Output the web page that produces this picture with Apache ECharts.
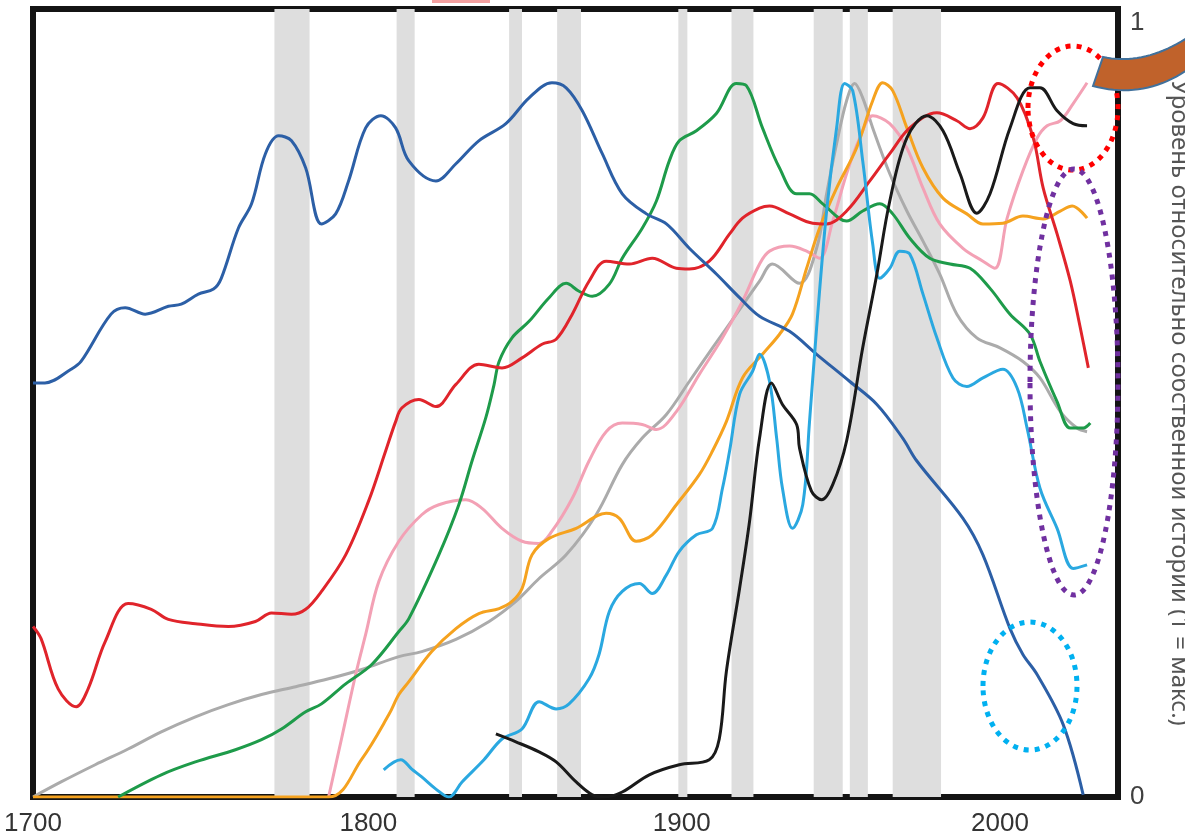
<!DOCTYPE html>
<html><head><meta charset="utf-8">
<script src="https://cdn.jsdelivr.net/npm/echarts@6/dist/echarts.min.js"></script>
<style>html,body{margin:0;padding:0;background:#fff}#c{width:1185px;height:839px}</style>
</head><body><div id="c"></div>
<script>
const xTicks = [1700, 1800, 1900, 2000];
const yAxisTitle = 'Уровень относительно собственной истории (1 = макс.)';
const warPeriods = [[1774.9,1785.8],[1812.8,1818.4],[1847.7,1851.7],[1862.6,1870.0],[1900.2,1903.0],[1916.7,1923.5],[1942.2,1951.2],[1953.4,1959.0],[1966.7,1981.7]];

const darkBlue = [[1700,0.578],[1703.7,0.578],[1711.8,0.597],[1714.9,0.608],[1724.2,0.674],[1728.6,0.683],[1734.8,0.674],[1742,0.685],[1746,0.688],[1751.3,0.702],[1756,0.709],[1758.4,0.724],[1763.7,0.794],[1767.8,0.828],[1772.1,0.898],[1776.2,0.923],[1780.2,0.916],[1784.6,0.878],[1789.5,0.8],[1793.9,0.814],[1797.9,0.86],[1803.2,0.934],[1807.9,0.951],[1812.5,0.934],[1816.6,0.888],[1825,0.86],[1831.2,0.884],[1838.3,0.916],[1846.7,0.94],[1853.9,0.976],[1861,0.997],[1865.4,0.99],[1870.4,0.958],[1876.6,0.898],[1882.8,0.842],[1890.3,0.814],[1896.5,0.8],[1903.6,0.766],[1912,0.73],[1919.2,0.697],[1925.4,0.671],[1934.7,0.65],[1943.1,0.618],[1953.4,0.58],[1961.8,0.548],[1969.8,0.501],[1974.2,0.469],[1988.5,0.389],[1994.7,0.338],[2003.1,0.235],[2007.1,0.199],[2011.5,0.171],[2019.6,0.101],[2025.8,0.003]];

const red = [[1700,0.238],[1702.5,0.221],[1707.8,0.151],[1713.4,0.126],[1717.1,0.151],[1722.4,0.217],[1729.5,0.27],[1736.7,0.262],[1742,0.248],[1750.4,0.242],[1760.6,0.238],[1769,0.245],[1774,0.257],[1780.2,0.255],[1784.6,0.262],[1789.5,0.287],[1797,0.338],[1804.1,0.413],[1809.4,0.483],[1812.5,0.524],[1814.4,0.543],[1819.7,0.555],[1825,0.545],[1831.2,0.576],[1838.3,0.604],[1845.5,0.599],[1851.7,0.613],[1857.9,0.632],[1862.3,0.639],[1867.3,0.674],[1872.5,0.72],[1877.8,0.748],[1885,0.744],[1892.1,0.752],[1899.6,0.738],[1903.6,0.737],[1909.8,0.748],[1916.1,0.786],[1920.1,0.808],[1925.4,0.822],[1928.5,0.825],[1934.7,0.814],[1941.9,0.801],[1946.2,0.8],[1952.4,0.818],[1959.6,0.86],[1965.8,0.898],[1972,0.934],[1980.4,0.955],[1986.6,0.944],[1990.7,0.933],[1994.7,0.948],[1999.4,0.996],[2005.3,0.976],[2010.3,0.92],[2013.4,0.85],[2017.7,0.786],[2021.8,0.72],[2024.9,0.655],[2027.4,0.599]];

const green = [[1726.4,0],[1739.8,0.031],[1750.4,0.049],[1762.8,0.066],[1770.9,0.08],[1777.1,0.095],[1784.6,0.119],[1789.5,0.13],[1797,0.158],[1805.1,0.185],[1813.5,0.231],[1816.6,0.249],[1825.9,0.338],[1832.1,0.408],[1836.2,0.469],[1840.5,0.53],[1843,0.575],[1844.6,0.608],[1848.6,0.641],[1853.9,0.664],[1860.1,0.697],[1865.4,0.717],[1869.4,0.706],[1873.5,0.699],[1878.8,0.716],[1882.8,0.752],[1889,0.794],[1893.4,0.832],[1897.4,0.888],[1900.5,0.916],[1905.8,0.93],[1912,0.954],[1918.2,0.996],[1921.3,0.993],[1926.3,0.934],[1931.6,0.878],[1936.9,0.842],[1940.9,0.842],[1945,0.828],[1952.4,0.804],[1957.4,0.818],[1962.7,0.828],[1966.7,0.814],[1972,0.78],[1978.2,0.752],[1984.5,0.744],[1990.7,0.738],[1996.9,0.71],[2003.1,0.674],[2009.3,0.646],[2012.4,0.608],[2017.7,0.552],[2021.8,0.515],[2025.8,0.515],[2028,0.522]];

const gray = [[1700,0],[1708.7,0.021],[1719.3,0.045],[1729.5,0.067],[1739.8,0.091],[1750.4,0.112],[1760.6,0.129],[1770.9,0.143],[1781.5,0.154],[1791.7,0.165],[1802,0.178],[1813.5,0.196],[1820.6,0.203],[1831.2,0.22],[1841.5,0.245],[1849.8,0.273],[1857,0.305],[1865.4,0.338],[1874.7,0.394],[1882.8,0.464],[1889,0.501],[1896.5,0.534],[1903.6,0.58],[1910.8,0.627],[1918.2,0.674],[1925.4,0.72],[1929.4,0.744],[1937.8,0.717],[1943.1,0.766],[1946.2,0.842],[1949.3,0.912],[1952.4,0.972],[1954.9,0.996],[1957.4,0.976],[1960.5,0.934],[1965.8,0.87],[1971.1,0.818],[1976.1,0.776],[1981.3,0.73],[1986.6,0.674],[1992.8,0.641],[2000,0.627],[2007.1,0.608],[2012.4,0.585],[2018.7,0.538],[2023.9,0.515],[2027,0.51]];

const pink = [[1791.7,0],[1795.7,0.081],[1800.1,0.171],[1803.2,0.227],[1807.3,0.301],[1813.5,0.357],[1820.6,0.394],[1825.9,0.408],[1834.3,0.415],[1839.3,0.403],[1845.5,0.375],[1851.7,0.357],[1857,0.354],[1861,0.371],[1867.3,0.417],[1872.5,0.469],[1877.8,0.51],[1882.8,0.522],[1889,0.52],[1893.4,0.513],[1899.6,0.538],[1906.7,0.59],[1913.9,0.641],[1920.1,0.692],[1925.4,0.744],[1928.5,0.762],[1934.7,0.769],[1940,0.762],[1944,0.752],[1948.1,0.804],[1952.4,0.87],[1956.5,0.92],[1960.5,0.951],[1965.8,0.94],[1971.1,0.906],[1976.1,0.85],[1981.3,0.8],[1988.5,0.766],[1994.7,0.748],[1998.4,0.738],[2002.2,0.808],[2007.1,0.874],[2011.5,0.92],[2014.6,0.937],[2018.7,0.944],[2022.7,0.968],[2027,0.997]];

const orange = [[1700,0],[1791.7,0],[1802,0.053],[1810.4,0.115],[1813.5,0.143],[1816.6,0.161],[1823.7,0.203],[1831.2,0.235],[1838.3,0.256],[1844.6,0.263],[1848.6,0.273],[1851.7,0.291],[1854.8,0.338],[1860.1,0.361],[1868.5,0.375],[1877.8,0.396],[1881.9,0.389],[1887.1,0.357],[1892.1,0.366],[1899.6,0.408],[1906.7,0.45],[1910.8,0.483],[1915.1,0.524],[1920.1,0.585],[1926.3,0.618],[1931.6,0.646],[1935.6,0.674],[1940,0.738],[1944,0.794],[1949.3,0.85],[1955.5,0.906],[1960.5,0.972],[1963.6,0.997],[1966.7,0.986],[1971.1,0.934],[1976.1,0.878],[1982.3,0.836],[1989.7,0.814],[1994.7,0.8],[2000.9,0.801],[2007.1,0.811],[2013.4,0.807],[2018.7,0.818],[2022.4,0.825],[2027,0.808]];

const lightBlue = [[1808.8,0.038],[1814.1,0.052],[1817.5,0.039],[1820.6,0.028],[1825,0.011],[1829,0],[1833.1,0.021],[1839.9,0.052],[1845.5,0.081],[1851.7,0.095],[1857,0.133],[1862.3,0.123],[1866.3,0.13],[1872.5,0.165],[1875.6,0.199],[1878.8,0.259],[1882.8,0.287],[1888.1,0.298],[1892.1,0.284],[1896.5,0.31],[1900.5,0.343],[1905.8,0.366],[1910.8,0.375],[1913.9,0.431],[1916.1,0.483],[1919.2,0.562],[1923.2,0.594],[1925.4,0.618],[1928.5,0.58],[1930.7,0.501],[1932.5,0.431],[1935.6,0.375],[1938.8,0.408],[1940.9,0.524],[1943.1,0.655],[1946.2,0.818],[1949.3,0.934],[1951.8,0.996],[1954.3,0.986],[1957.4,0.888],[1960.5,0.772],[1962.7,0.724],[1965.8,0.738],[1968.9,0.762],[1972,0.758],[1976.1,0.702],[1980.4,0.641],[1985.4,0.585],[1989.7,0.573],[1994.7,0.585],[2000.9,0.597],[2005.3,0.571],[2008.4,0.515],[2012.4,0.431],[2017.7,0.375],[2022.7,0.319],[2027,0.324]];

const black = [[1843.6,0.088],[1849.8,0.077],[1857,0.063],[1862.3,0.049],[1868.5,0.021],[1873.5,0.003],[1877.2,0],[1882.8,0.007],[1891.2,0.031],[1900.5,0.045],[1909.8,0.052],[1912.9,0.081],[1915.1,0.175],[1919.2,0.291],[1922.3,0.385],[1925.4,0.501],[1929.1,0.578],[1932.5,0.548],[1936.9,0.52],[1937.8,0.487],[1941.5,0.427],[1944.7,0.415],[1948.1,0.436],[1952.4,0.497],[1957.4,0.627],[1961.8,0.73],[1965.8,0.832],[1971.1,0.92],[1977.3,0.951],[1982.3,0.93],[1987.6,0.87],[1992.8,0.815],[1996.9,0.842],[2003.1,0.934],[2009.3,0.99],[2012.4,0.99],[2017.7,0.958],[2022.7,0.94],[2027,0.937]];

const seriesDefs = [
  ['Серый', gray, '#ABABAB'],
  ['Розовый', pink, '#F3A1B5'],
  ['Оранжевый', orange, '#F5A21F'],
  ['Зелёный', green, '#1E9B4A'],
  ['Красный', red, '#E0242B'],
  ['Синий', darkBlue, '#2C5FA6'],
  ['Голубой', lightBlue, '#2AA8E0'],
  ['Чёрный', black, '#1A1A1A']
];

const labelFont = "'Liberation Sans Narrow','Liberation Sans',sans-serif";
const chart = echarts.init(document.getElementById('c'), null, {renderer: 'canvas'});

// brown curved arrow body (decoration): quadratic curves sampled into a polygon
function quad(p0, p1, p2, n) {
  const pts = [];
  for (let i = 0; i <= n; i++) {
    const t = i / n, u = 1 - t;
    pts.push([u*u*p0[0] + 2*u*t*p1[0] + t*t*p2[0], u*u*p0[1] + 2*u*t*p1[1] + t*t*p2[1]]);
  }
  return pts;
}
const arrowPts = quad([1103,57],[1145,66],[1190,36],20).concat(quad([1190,68],[1145,100],[1093,86],20));

const series = [{
  type: 'line', name: 'war', data: [[1700, null]], silent: true, z: 1, showSymbol: false,
  lineStyle: {width: 0},
  markArea: {
    silent: true,
    itemStyle: {color: '#DEDEDE', opacity: 1},
    data: warPeriods.map(p => [{xAxis: p[0]}, {xAxis: p[1]}])
  }
}].concat(seriesDefs.map(d => ({
  type: 'line', name: d[0], data: d[1], smooth: 0.35, showSymbol: false, z: 3,
  lineStyle: {color: d[2], width: 3}, itemStyle: {color: d[2]}
})));

chart.setOption({
  animation: false,
  backgroundColor: '#fff',
  grid: {left: 33, right: 67, top: 9, bottom: 42, show: true, borderColor: '#141414', borderWidth: 6, backgroundColor: '#fff', outerBoundsMode: 'none', containLabel: false},
  xAxis: {
    type: 'value', min: 1700, max: 2036.6, interval: 100,
    axisLine: {show: false}, axisTick: {show: false}, splitLine: {show: false},
    axisLabel: {
      margin: 14, fontSize: 26, color: '#333', fontFamily: labelFont,
      formatter: v => {
        if (!xTicks.includes(v)) return '';
        if (v === 1800) return '{s|' + v + '}';
        if (v === 1900) return '{t|' + v + '}';
        return '{n|' + v + '}';
      },
      rich: {
        n: {fontSize: 26, color: '#333', fontFamily: labelFont},
        s: {fontSize: 26, color: '#333', fontFamily: labelFont, padding: [0, 0, 0, 26]},
        t: {fontSize: 26, color: '#333', fontFamily: labelFont, padding: [0, 0, 0, 8]}
      }
    }
  },
  yAxis: {
    type: 'value', position: 'right', min: 0, max: 1.1, interval: 1.1,
    axisLine: {show: false}, axisTick: {show: false}, splitLine: {show: false},
    name: yAxisTitle, nameLocation: 'middle', nameRotate: -90, nameGap: 49,
    nameTextStyle: {fontSize: 24, color: '#555', fontFamily: "'Noto Sans',sans-serif"},
    axisLabel: {
      margin: 12, fontSize: 26, color: '#404040', fontFamily: labelFont,
      formatter: v => v === 0 ? '{n|0}' : (v > 1 ? '{t|1}' : ''),
      rich: {
        n: {fontSize: 26, color: '#404040', fontFamily: labelFont},
        t: {fontSize: 26, color: '#404040', fontFamily: labelFont, padding: [28, 0, 0, 0]}
      }
    }
  },
  series: series,
  graphic: [
    {type: 'rect', shape: {x: 432, y: 0, width: 58, height: 3}, style: {fill: '#F3A0A0'}, z: 50},
    {type: 'ellipse', shape: {cx: 1073, cy: 108, rx: 45, ry: 62}, style: {fill: 'none', stroke: '#FF0000', lineWidth: 5, lineDash: [5, 6]}, z: 60},
    {type: 'ellipse', shape: {cx: 1074, cy: 382, rx: 44, ry: 213}, style: {fill: 'none', stroke: '#7030A0', lineWidth: 5, lineDash: [5, 6]}, z: 60},
    {type: 'ellipse', shape: {cx: 1030, cy: 686, rx: 47, ry: 64}, style: {fill: 'none', stroke: '#00B0F0', lineWidth: 5, lineDash: [5, 6]}, z: 60},
    {type: 'polygon', shape: {points: arrowPts}, style: {fill: '#C0622B', stroke: '#41719C', lineWidth: 2}, z: 70}
  ]
});
</script></body></html>
